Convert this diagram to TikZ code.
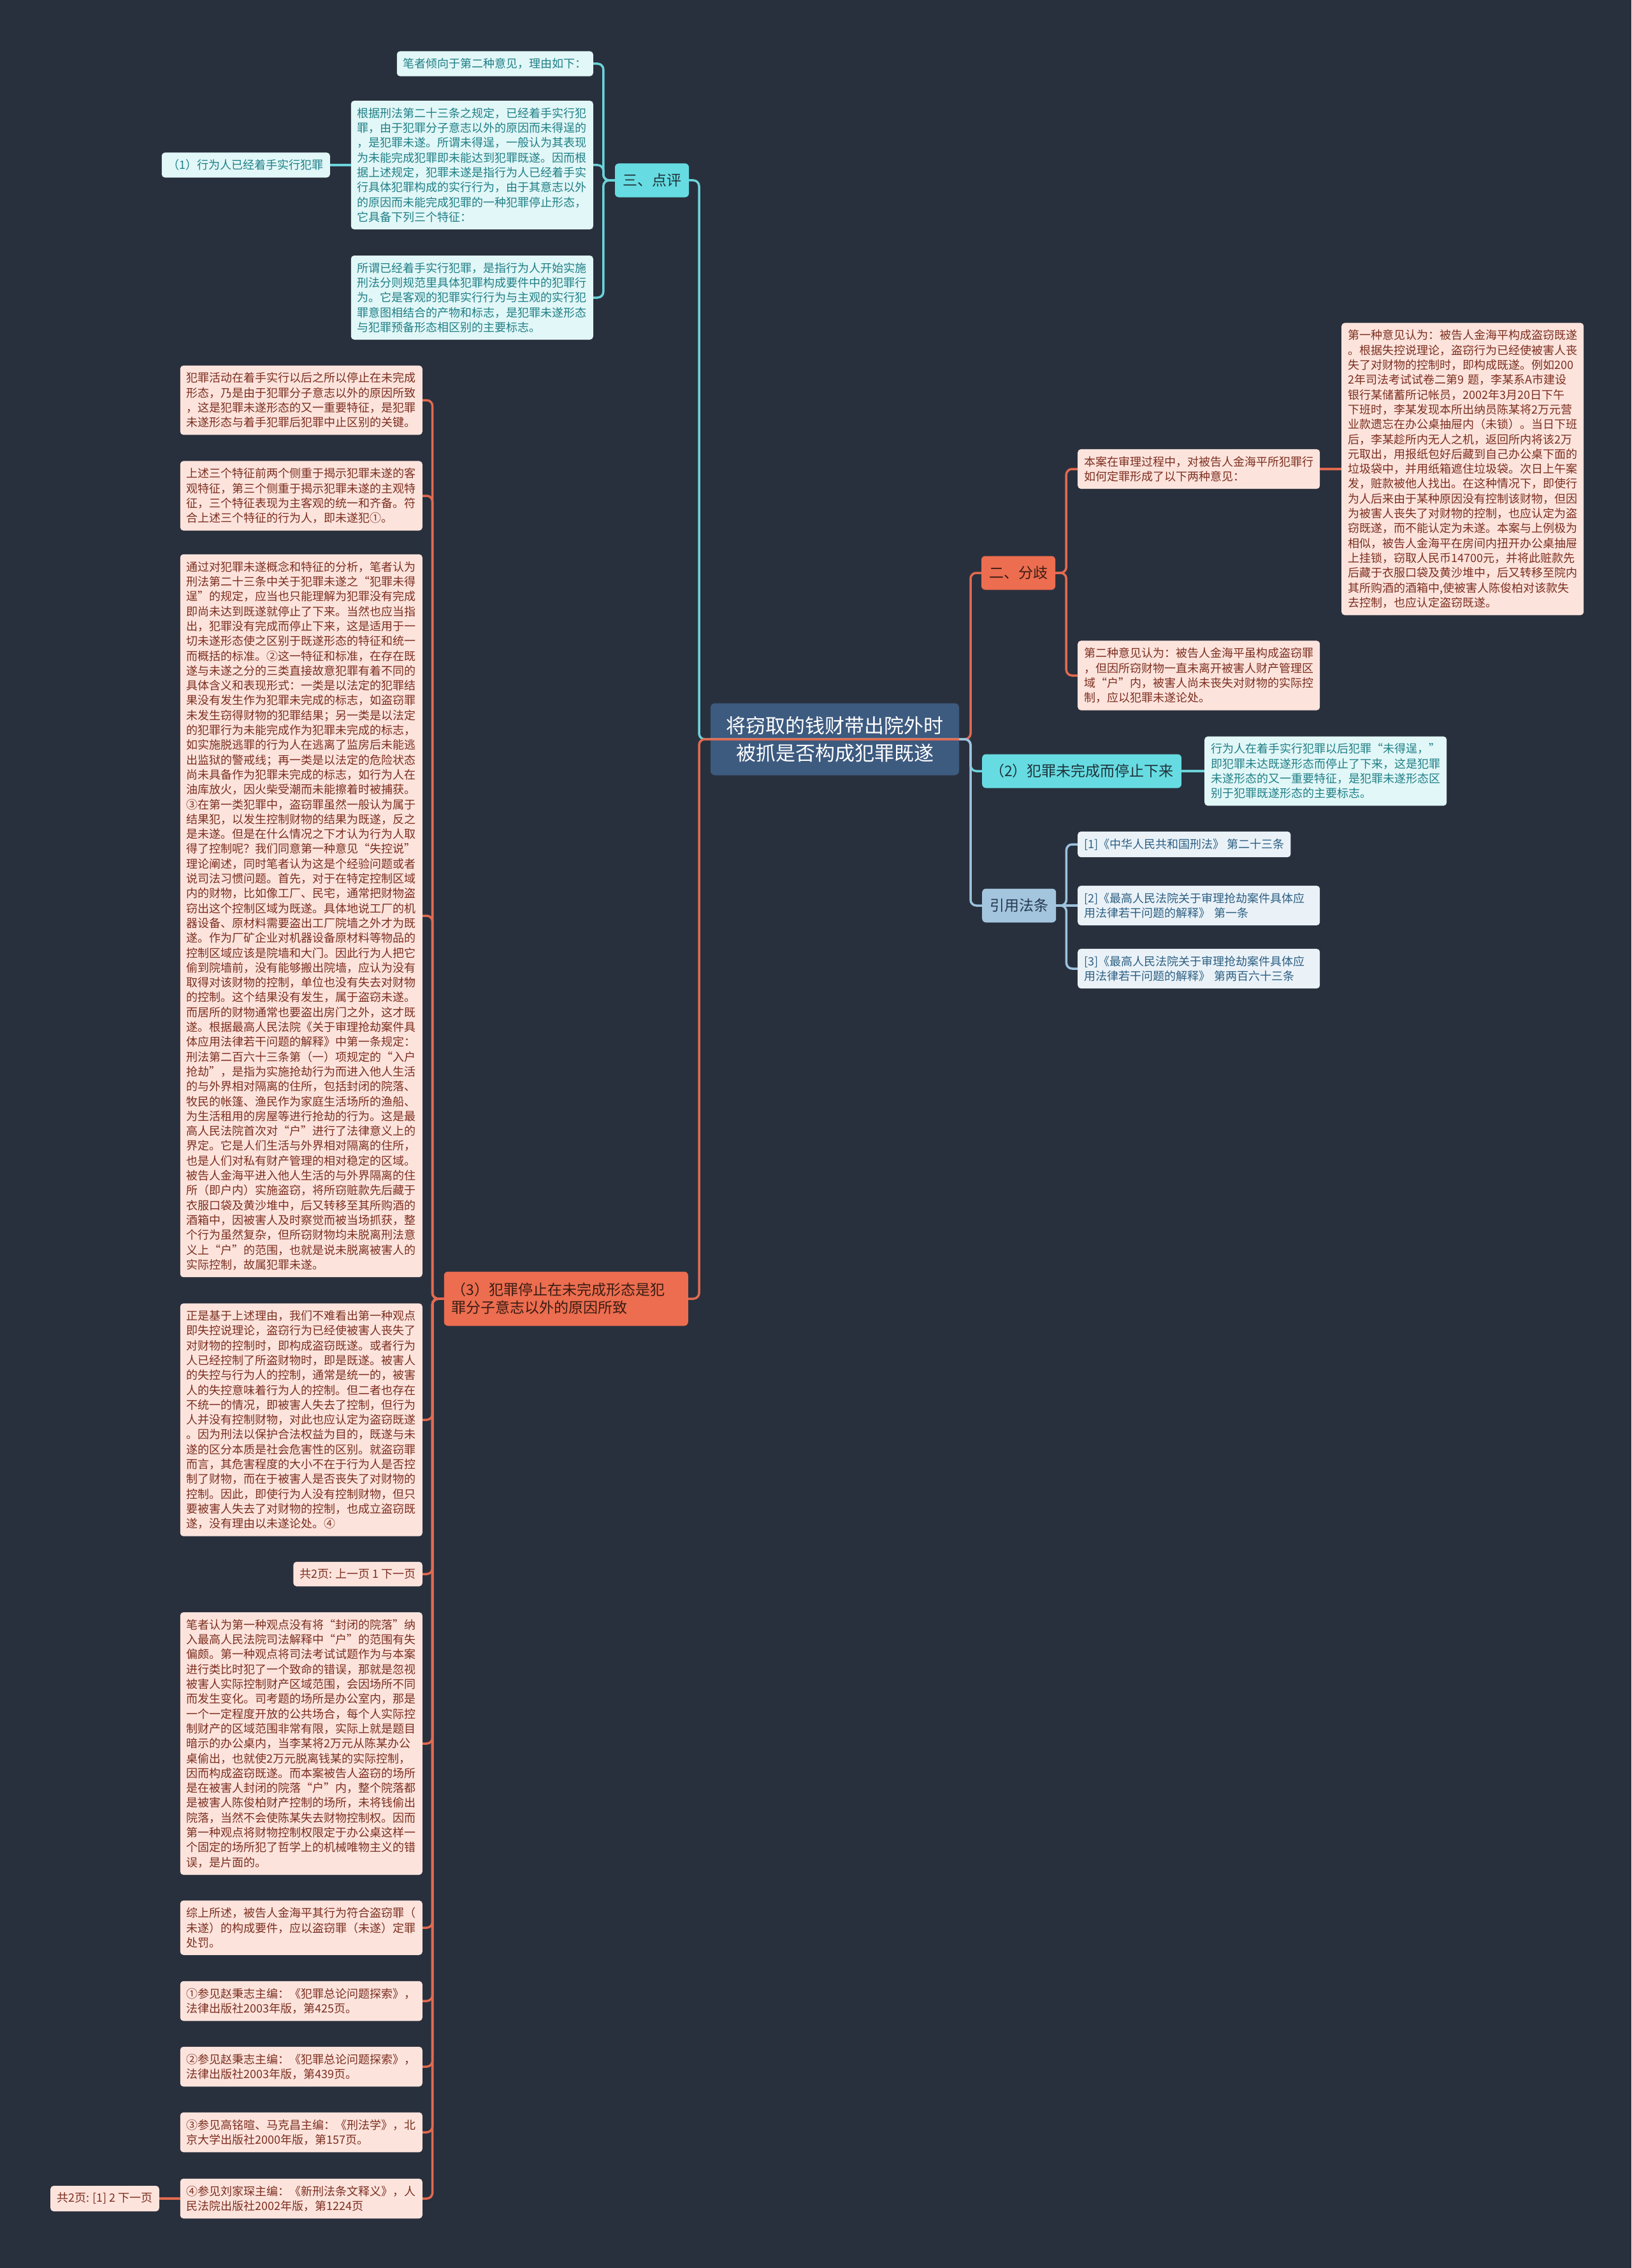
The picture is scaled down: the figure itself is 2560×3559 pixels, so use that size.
\documentclass[tikz,border=0pt]{standalone}
\usepackage{fontspec}
\newfontfamily\cjk{Noto Sans CJK SC}

\definecolor{fond}{HTML}{29303D}
\definecolor{cracine}{HTML}{3D5A7F}
\definecolor{ccyan}{HTML}{66DCE2}
\definecolor{corange}{HTML}{EC6D4F}
\definecolor{cbleu}{HTML}{A4C5DE}
\definecolor{lcyan}{HTML}{6CD3DA}
\definecolor{lorange}{HTML}{E26A50}
\definecolor{lbleu}{HTML}{9DC3DE}
\definecolor{tcyanfonce}{HTML}{1F333B}
\definecolor{trougefonce}{HTML}{3A1C14}
\definecolor{tbleufonce}{HTML}{24394F}
\definecolor{cfcyan}{HTML}{E2F7F7}
\definecolor{ctcyan}{HTML}{1F7F87}
\definecolor{cfrose}{HTML}{FCE4DD}
\definecolor{ctrose}{HTML}{7C2E1F}
\definecolor{cfbleu}{HTML}{EAF2F8}
\definecolor{ctbleu}{HTML}{2D5F82}

\tikzset{
  lien/.style={line width=3.5pt, rounded corners=9pt},
  racine/.style={fill=cracine, text=white, rounded corners=7pt, minimum width=390pt, minimum height=113pt, align=center, font=\cjk\fontsize{31}{43}\selectfont},
  branche/.style={rounded corners=6pt, inner sep=12pt, minimum height=53pt, font=\cjk\fontsize{23}{28}\selectfont},
  feuille/.style={rounded corners=5pt, inner xsep=10pt, inner ysep=11pt, align=left, font=\cjk\fontsize{18}{23.3}\selectfont},
  pleine/.style={text width=360pt},
  bcyan/.style={branche, fill=ccyan, text=tcyanfonce},
  borange/.style={branche, fill=corange, text=trougefonce},
  bbleu/.style={branche, fill=cbleu, text=tbleufonce},
  fcyan/.style={feuille, fill=cfcyan, text=ctcyan},
  frose/.style={feuille, fill=cfrose, text=ctrose},
  fbleu/.style={feuille, fill=cfbleu, text=ctbleu}
}

\begin{document}
\begin{tikzpicture}[x=1pt,y=-1pt]

% Fond
\fill[fond] (0,0) rectangle (2560,3559);

% Racine
\node[racine] (racine) at (1310,1160)
{将窃取的钱财带出院外时\\被抓是否构成犯罪既遂};

\coordinate (tg) at (1097,1160);
\coordinate (td) at (1523,1160);

% Trois : point de vue
\node[bcyan] (dianping) at (1023,283)
{三、点评};

\node[fcyan, anchor=east] (raison) at (931,100)
{笔者倾向于第二种意见，理由如下：};

\node[fcyan, pleine, anchor=east] (loi) at (931,259)
{根据刑法第二十三条之规定，已经着手实行犯\\
罪，由于犯罪分子意志以外的原因而未得逞的\\
，是犯罪未遂。所谓未得逞，一般认为其表现\\
为未能完成犯罪即未能达到犯罪既遂。因而根\\
据上述规定，犯罪未遂是指行为人已经着手实\\
行具体犯罪构成的实行行为，由于其意志以外\\
的原因而未能完成犯罪的一种犯罪停止形态，\\
它具备下列三个特征：};

\node[fcyan, anchor=east] (un) at (518,259)
{（1）行为人已经着手实行犯罪};

\node[fcyan, pleine, anchor=east] (debut) at (931,467)
{所谓已经着手实行犯罪，是指行为人开始实施\\
刑法分则规范里具体犯罪构成要件中的犯罪行\\
为。它是客观的犯罪实行行为与主观的实行犯\\
罪意图相结合的产物和标志，是犯罪未遂形态\\
与犯罪预备形态相区别的主要标志。};

% Deux : divergence
\node[borange] (fenqi) at (1598,899)
{二、分歧};

\node[frose, pleine, anchor=west] (cas) at (1691,736)
{本案在审理过程中，对被告人金海平所犯罪行\\
如何定罪形成了以下两种意见：};

\node[frose, pleine, anchor=west] (premier) at (2105,736)
{第一种意见认为：被告人金海平构成盗窃既遂\\
。根据失控说理论，盗窃行为已经使被害人丧\\
失了对财物的控制时，即构成既遂。例如200\\
2年司法考试试卷二第9 题，李某系A市建设\\
银行某储蓄所记帐员，2002年3月20日下午\\
下班时，李某发现本所出纳员陈某将2万元营\\
业款遗忘在办公桌抽屉内（未锁）。当日下班\\
后，李某趁所内无人之机，返回所内将该2万\\
元取出，用报纸包好后藏到自己办公桌下面的\\
垃圾袋中，并用纸箱遮住垃圾袋。次日上午案\\
发，赃款被他人找出。在这种情况下，即使行\\
为人后来由于某种原因没有控制该财物，但因\\
为被害人丧失了对财物的控制，也应认定为盗\\
窃既遂，而不能认定为未遂。本案与上例极为\\
相似，被告人金海平在房间内扭开办公桌抽屉\\
上挂锁，窃取人民币14700元，并将此赃款先\\
后藏于衣服口袋及黄沙堆中，后又转移至院内\\
其所购酒的酒箱中,使被害人陈俊柏对该款失\\
去控制，也应认定盗窃既遂。};

\node[frose, pleine, anchor=west] (second) at (1691,1060)
{第二种意见认为：被告人金海平虽构成盗窃罪\\
，但因所窃财物一直未离开被害人财产管理区\\
域“户”内，被害人尚未丧失对财物的实际控\\
制，应以犯罪未遂论处。};

% (2)
\node[bcyan, anchor=west] (deux) at (1541,1210)
{（2）犯罪未完成而停止下来};

\node[fcyan, pleine, anchor=west] (deuxtxt) at (1890,1210)
{行为人在着手实行犯罪以后犯罪“未得逞，”\\
即犯罪未达既遂形态而停止了下来，这是犯罪\\
未遂形态的又一重要特征，是犯罪未遂形态区\\
别于犯罪既遂形态的主要标志。};

% Articles cites
\node[bbleu, anchor=west] (cite) at (1541,1421)
{引用法条};

\node[fbleu, anchor=west] (art1) at (1691,1325)
{[1]《中华人民共和国刑法》 第二十三条};

\node[fbleu, pleine, anchor=west] (art2) at (1691,1421)
{[2]《最高人民法院关于审理抢劫案件具体应\\
用法律若干问题的解释》 第一条};

\node[fbleu, pleine, anchor=west] (art3) at (1691,1520)
{[3]《最高人民法院关于审理抢劫案件具体应\\
用法律若干问题的解释》 第两百六十三条};

% (3)
\node[borange, text width=359pt, align=left, minimum height=85pt, anchor=east] (trois) at (1080,2038)
{（3）犯罪停止在未完成形态是犯\\罪分子意志以外的原因所致};

\node[frose, pleine, anchor=east] (c1) at (663,628)
{犯罪活动在着手实行以后之所以停止在未完成\\
形态，乃是由于犯罪分子意志以外的原因所致\\
，这是犯罪未遂形态的又一重要特征，是犯罪\\
未遂形态与着手犯罪后犯罪中止区别的关键。};

\node[frose, pleine, anchor=east] (c2) at (663,778)
{上述三个特征前两个侧重于揭示犯罪未遂的客\\
观特征，第三个侧重于揭示犯罪未遂的主观特\\
征，三个特征表现为主客观的统一和齐备。符\\
合上述三个特征的行为人，即未遂犯①。};

\node[frose, pleine, anchor=east] (c3) at (663,1437)
{通过对犯罪未遂概念和特征的分析，笔者认为\\
刑法第二十三条中关于犯罪未遂之“犯罪未得\\
逞”的规定，应当也只能理解为犯罪没有完成\\
即尚未达到既遂就停止了下来。当然也应当指\\
出，犯罪没有完成而停止下来，这是适用于一\\
切未遂形态使之区别于既遂形态的特征和统一\\
而概括的标准。②这一特征和标准，在存在既\\
遂与未遂之分的三类直接故意犯罪有着不同的\\
具体含义和表现形式：一类是以法定的犯罪结\\
果没有发生作为犯罪未完成的标志，如盗窃罪\\
未发生窃得财物的犯罪结果；另一类是以法定\\
的犯罪行为未能完成作为犯罪未完成的标志，\\
如实施脱逃罪的行为人在逃离了监房后未能逃\\
出监狱的警戒线；再一类是以法定的危险状态\\
尚未具备作为犯罪未完成的标志，如行为人在\\
油库放火，因火柴受潮而未能擦着时被捕获。\\
③在第一类犯罪中，盗窃罪虽然一般认为属于\\
结果犯，以发生控制财物的结果为既遂，反之\\
是未遂。但是在什么情况之下才认为行为人取\\
得了控制呢？我们同意第一种意见“失控说”\\
理论阐述，同时笔者认为这是个经验问题或者\\
说司法习惯问题。首先，对于在特定控制区域\\
内的财物，比如像工厂、民宅，通常把财物盗\\
窃出这个控制区域为既遂。具体地说工厂的机\\
器设备、原材料需要盗出工厂院墙之外才为既\\
遂。作为厂矿企业对机器设备原材料等物品的\\
控制区域应该是院墙和大门。因此行为人把它\\
偷到院墙前，没有能够搬出院墙，应认为没有\\
取得对该财物的控制，单位也没有失去对财物\\
的控制。这个结果没有发生，属于盗窃未遂。\\
而居所的财物通常也要盗出房门之外，这才既\\
遂。根据最高人民法院《关于审理抢劫案件具\\
体应用法律若干问题的解释》中第一条规定：\\
刑法第二百六十三条第（一）项规定的“入户\\
抢劫”，是指为实施抢劫行为而进入他人生活\\
的与外界相对隔离的住所，包括封闭的院落、\\
牧民的帐篷、渔民作为家庭生活场所的渔船、\\
为生活租用的房屋等进行抢劫的行为。这是最\\
高人民法院首次对“户”进行了法律意义上的\\
界定。它是人们生活与外界相对隔离的住所，\\
也是人们对私有财产管理的相对稳定的区域。\\
被告人金海平进入他人生活的与外界隔离的住\\
所（即户内）实施盗窃，将所窃赃款先后藏于\\
衣服口袋及黄沙堆中，后又转移至其所购酒的\\
酒箱中，因被害人及时察觉而被当场抓获，整\\
个行为虽然复杂，但所窃财物均未脱离刑法意\\
义上“户”的范围，也就是说未脱离被害人的\\
实际控制，故属犯罪未遂。};

\node[frose, pleine, anchor=east] (c4) at (663,2228)
{正是基于上述理由，我们不难看出第一种观点\\
即失控说理论，盗窃行为已经使被害人丧失了\\
对财物的控制时，即构成盗窃既遂。或者行为\\
人已经控制了所盗财物时，即是既遂。被害人\\
的失控与行为人的控制，通常是统一的，被害\\
人的失控意味着行为人的控制。但二者也存在\\
不统一的情况，即被害人失去了控制，但行为\\
人并没有控制财物，对此也应认定为盗窃既遂\\
。因为刑法以保护合法权益为目的，既遂与未\\
遂的区分本质是社会危害性的区别。就盗窃罪\\
而言，其危害程度的大小不在于行为人是否控\\
制了财物，而在于被害人是否丧失了对财物的\\
控制。因此，即使行为人没有控制财物，但只\\
要被害人失去了对财物的控制，也成立盗窃既\\
遂，没有理由以未遂论处。④};

\node[frose, anchor=east] (c5) at (663,2470)
{共2页: 上一页 1 下一页};

\node[frose, pleine, anchor=east] (c6) at (663,2736)
{笔者认为第一种观点没有将“封闭的院落”纳\\
入最高人民法院司法解释中“户”的范围有失\\
偏颇。第一种观点将司法考试试题作为与本案\\
进行类比时犯了一个致命的错误，那就是忽视\\
被害人实际控制财产区域范围，会因场所不同\\
而发生变化。司考题的场所是办公室内，那是\\
一个一定程度开放的公共场合，每个人实际控\\
制财产的区域范围非常有限，实际上就是题目\\
暗示的办公桌内，当李某将2万元从陈某办公\\
桌偷出，也就使2万元脱离钱某的实际控制，\\
因而构成盗窃既遂。而本案被告人盗窃的场所\\
是在被害人封闭的院落“户”内，整个院落都\\
是被害人陈俊柏财产控制的场所，未将钱偷出\\
院落，当然不会使陈某失去财物控制权。因而\\
第一种观点将财物控制权限定于办公桌这样一\\
个固定的场所犯了哲学上的机械唯物主义的错\\
误，是片面的。};

\node[frose, pleine, anchor=east] (c7) at (663,3025)
{综上所述，被告人金海平其行为符合盗窃罪（\\
未遂）的构成要件，应以盗窃罪（未遂）定罪\\
处罚。};

\node[frose, pleine, anchor=east] (c8) at (663,3140)
{①参见赵秉志主编：《犯罪总论问题探索》，\\
法律出版社2003年版，第425页。};

\node[frose, pleine, anchor=east] (c9) at (663,3243)
{②参见赵秉志主编：《犯罪总论问题探索》，\\
法律出版社2003年版，第439页。};

\node[frose, pleine, anchor=east] (c10) at (663,3346)
{③参见高铭暄、马克昌主编：《刑法学》，北\\
京大学出版社2000年版，第157页。};

\node[frose, pleine, anchor=east] (c11) at (663,3450)
{④参见刘家琛主编：《新刑法条文释义》，人\\
民法院出版社2002年版，第1224页};

\node[frose, anchor=east] (c12) at (250,3450)
{共2页: [1] 2 下一页};

% Liens depuis la racine
\draw[lien, lorange] (racine.west) -- (td) |- (fenqi.west);
\draw[lien, lcyan] (racine.west) -- (td) |- (deux.west);
\draw[lien, lbleu] (racine.west) -- (td) |- (cite.west);
\draw[lien, lcyan] (racine.east) -- (tg) |- (dianping.east);
\draw[lien, lorange] (racine.east) -- (tg) |- (trois.east);

% Liens des branches
\foreach \f in {raison,loi,debut}
{
    \draw[lien, lcyan] (dianping.west) -- ++(-18,0) |- (\f.east);
}
\draw[lien, lcyan] (loi.west) -- (un.east);

\foreach \f in {cas,second}
{
    \draw[lien, lorange] (fenqi.east) -- ++(17,0) |- (\f.west);
}
\draw[lien, lorange] (cas.east) -- (premier.west);

\draw[lien, lcyan] (deux.east) -- (deuxtxt.west);

\foreach \f in {art1,art3}
{
    \draw[lien, lbleu] (cite.east) -- ++(16,0) |- (\f.west);
}
\draw[lien, lbleu] (cite.east) -- (art2.west);

\foreach \i in {1,...,11}
{
    \draw[lien, lorange] (trois.west) -- ++(-18,0) |- (c\i.east);
}
\draw[lien, lorange] (c11.west) -- (c12.east);

\end{tikzpicture}
\end{document}
